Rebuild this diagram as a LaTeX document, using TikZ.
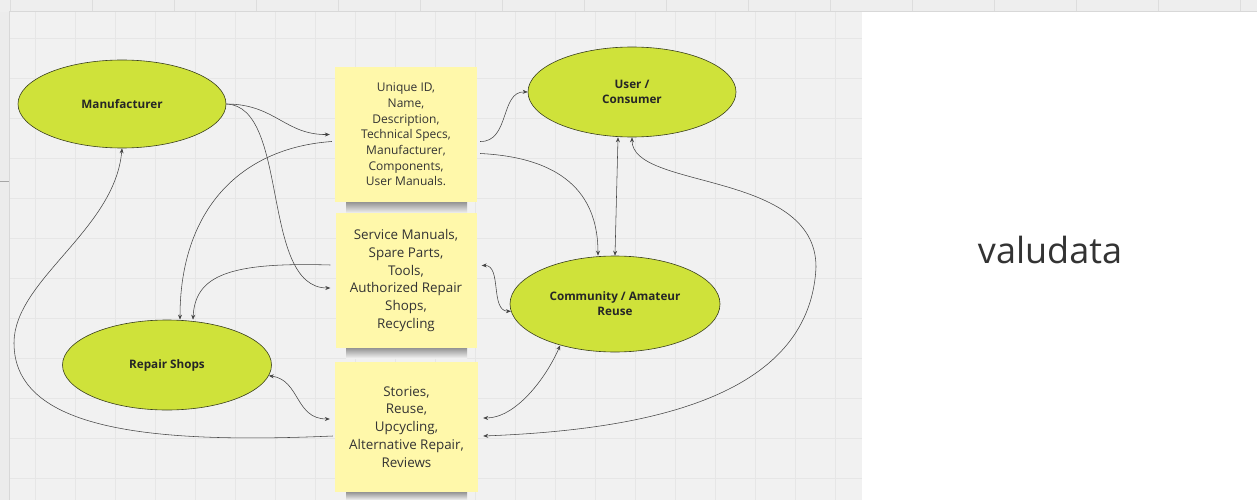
\documentclass[tikz,border=0pt]{standalone}
\usepackage{fontspec}
\setmainfont{Open Sans}
\usetikzlibrary{shapes.geometric,arrows.meta}
\definecolor{bgc}{HTML}{F1F1F1}
\definecolor{topc}{HTML}{EEEEEE}
\definecolor{leftc}{HTML}{ECECEC}
\definecolor{gridc}{HTML}{E6E6E6}
\definecolor{toplinec}{HTML}{DDDDDD}
\definecolor{borderc}{HTML}{D8D8D8}
\definecolor{notec}{HTML}{FFF8AA}
\definecolor{ellc}{HTML}{CFE23A}
\definecolor{ellborder}{HTML}{3A3F1E}
\definecolor{txtc}{HTML}{333333}
\definecolor{linec}{HTML}{444444}
\begin{document}
\begin{tikzpicture}[x=1pt,y=-1pt,
  ell/.style={ellipse, draw=ellborder, line width=0.6pt, fill=ellc, inner sep=0pt, align=center,
    font=\bfseries\fontsize{11.7}{15}\selectfont, text=black!85},
  note/.style={rectangle, fill=notec, inner sep=0pt, align=center, text=txtc},
  conn/.style={draw=linec, line width=0.55pt},
  tipend/.style={conn, -{Stealth[length=5pt,width=4pt]}},
  tipboth/.style={conn, {Stealth[length=5pt,width=4pt]}-{Stealth[length=5pt,width=4pt]}},
  nshadow/.style={top color=black!42, bottom color=bgc}
]
\useasboundingbox (0,0) rectangle (1257,500);
% background
\fill[topc] (0,0) rectangle (1257,12);
\fill[leftc] (0,12) rectangle (10,500);
\fill[bgc] (10,12) rectangle (862,500);
\fill[white] (862,12) rectangle (1257,500);
\foreach \x in {35,75,...,835} \draw[gridc, line width=0.5pt] (\x,12) -- (\x,500);
\foreach \y in {38,78,...,478} \draw[gridc, line width=0.5pt] (10,\y) -- (862,\y);
\foreach \x in {10,92,...,1250} \draw[toplinec, line width=0.6pt] (\x,0) -- (\x,11);
\draw[borderc, line width=1pt] (9.5,500) -- (9.5,11.5) -- (1257,11.5);
\draw[gray!70, line width=0.6pt] (0,181) -- (9,181);
% note shadows
\shade[nshadow] (346,202) rectangle (467,213);
\shade[nshadow] (346,348) rectangle (467,358);
\shade[nshadow] (346,492) rectangle (467,500);
% notes
\node[note, minimum width=142pt, minimum height=135pt, font=\fontsize{12}{15.7}\selectfont] (n1) at (406,134.5)
  {Unique ID,\\Name,\\Description,\\Technical Specs,\\Manufacturer,\\Components,\\User Manuals.};
\node[note, minimum width=141pt, minimum height=135pt, font=\fontsize{13.4}{17.8}\selectfont] (n2) at (406,280.5)
  {Service Manuals,\\Spare Parts,\\Tools,\\Authorized Repair\\Shops,\\Recycling};
\node[note, minimum width=143pt, minimum height=130pt, font=\fontsize{13.4}{17.9}\selectfont] (n3) at (406.5,427)
  {Stories,\\Reuse,\\Upcycling,\\Alternative Repair,\\Reviews};
% ellipses
\node[ell, minimum width=208pt, minimum height=88pt] (mfr) at (122,104) {Manufacturer};
\node[ell, minimum width=208pt, minimum height=90pt] (usr) at (632,92) {User /\\Consumer};
\node[ell, minimum width=210pt, minimum height=96pt] (com) at (615,304) {Community / Amateur\\Reuse};
\node[ell, minimum width=209pt, minimum height=90pt] (rep) at (167,365) {Repair Shops};
% title
\node[font=\fontsize{36}{40}\selectfont, text=black!80] (title) at (1050,250) {valudata};
% helper coordinates
\coordinate (loopL) at (14,343);
\coordinate (loopR) at (816,267);
% connectors
\draw[tipend] (mfr.east) .. controls (275,104) and (285,135) .. ([xshift=-5pt]n1.west);
\draw[tipend] (mfr.east) .. controls (290,106) and (260,288) .. ([xshift=-5pt,yshift=-7.5pt]n2.west);
\draw[tipend] ([xshift=-3pt,yshift=-7pt]n1.west) .. controls (240,148) and (180,210) .. ([xshift=13pt]rep.north);
\draw[tipend] ([xshift=-5pt,yshift=15.5pt]n2.west) .. controls (230,262) and (195,275) .. ([xshift=26pt]rep.north);
\draw[tipend] ([xshift=-2pt,yshift=-9pt]n3.west) .. controls (150,444) and (14,430) .. (loopL)
  .. controls (14,280) and (115,230) .. (mfr.south);
\draw[tipboth] (rep.-6) .. controls (300,380) and (295,419) .. ([xshift=-5pt,yshift=8pt]n3.west);
\draw[tipend] ([xshift=3pt,yshift=-7pt]n1.east) .. controls (510,142) and (500,91) .. (usr.west);
\draw[tipend] ([xshift=3pt,yshift=-19pt]n1.east) .. controls (570,158) and (598,200) .. ([xshift=-17pt]com.north);
\draw[tipboth] ([xshift=-14pt]usr.south) -- (com.north);
\draw[tipboth] (usr.south) .. controls (632,190) and (816,170) .. (loopR)
  .. controls (810,400) and (640,430) .. ([xshift=5pt,yshift=-9pt]n3.east);
\draw[tipboth] (com.217) .. controls (545,380) and (515,418) .. ([xshift=5pt,yshift=9pt]n3.east);
\draw[tipboth] ([xshift=5pt,yshift=15pt]n2.east) .. controls (502,265) and (490,311) .. (com.184);
\end{tikzpicture}
\end{document}
